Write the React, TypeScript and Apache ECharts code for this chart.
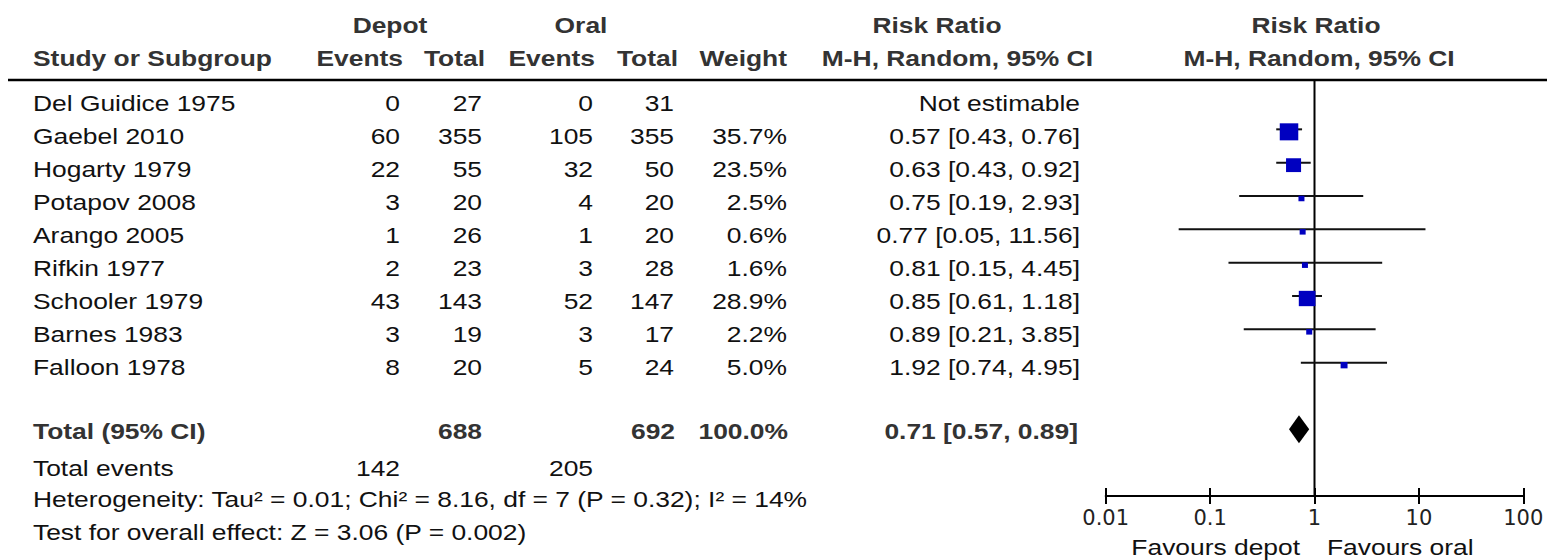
import React, { useEffect, useRef } from "react";
import * as echarts from "echarts";

// ---------- data ----------
const studies = [
  "Del Guidice 1975",
  "Gaebel 2010",
  "Hogarty 1979",
  "Potapov 2008",
  "Arango 2005",
  "Rifkin 1977",
  "Schooler 1979",
  "Barnes 1983",
  "Falloon 1978",
];
const depotEvents = [0, 60, 22, 3, 1, 2, 43, 3, 8];
const depotTotal = [27, 355, 55, 20, 26, 23, 143, 19, 20];
const oralEvents = [0, 105, 32, 4, 1, 3, 52, 3, 5];
const oralTotal = [31, 355, 50, 20, 20, 28, 147, 17, 24];
const weights: (number | null)[] = [null, 35.7, 23.5, 2.5, 0.6, 1.6, 28.9, 2.2, 5.0];
const riskRatio: (number | null)[] = [null, 0.57, 0.63, 0.75, 0.77, 0.81, 0.85, 0.89, 1.92];
const ciLower: (number | null)[] = [null, 0.43, 0.43, 0.19, 0.05, 0.15, 0.61, 0.21, 0.74];
const ciUpper: (number | null)[] = [null, 0.76, 0.92, 2.93, 11.56, 4.45, 1.18, 3.85, 4.95];

const totalDepot = 688;
const totalOral = 692;
const totalWeight = 100.0;
const pooledRR = 0.71;
const pooledLower = 0.57;
const pooledUpper = 0.89;
const totalEventsDepot = 142;
const totalEventsOral = 205;
const heterogeneityText =
  "Heterogeneity: Tau² = 0.01; Chi² = 8.16, df = 7 (P = 0.32); I² = 14%";
const overallEffectText = "Test for overall effect: Z = 3.06 (P = 0.002)";
const tickLabels = ["0.01", "0.1", "1", "10", "100"];
const favoursLeft = "Favours depot";
const favoursRight = "Favours oral";
const notEstimable = "Not estimable";

// ---------- layout ----------
const W = 1547;
const H = 560;
const SX = 1.2; // horizontal stretch of the reference's text
const FONT = '"Liberation Sans", Arial, sans-serif';
const totalRowIndex = 10;
const textRowY = (i: number) => 103 + 33 * i;
const GRID_LEFT = 1105.7;
const GRID_RIGHT = W - 1523.3;
const AXIS_Y = 496;

const fmt2 = (v: number) => v.toFixed(2);
const ciText = (r: number, l: number, u: number) => `${fmt2(r)} [${fmt2(l)}, ${fmt2(u)}]`;

function txt(text: string, x: number, y: number, align: string, bold = false) {
  return {
    type: "text",
    x,
    y,
    scaleX: SX,
    silent: true,
    z: 20,
    style: {
      text,
      fill: bold ? "#333333" : "#111111",
      fontSize: 22,
      fontFamily: FONT,
      fontWeight: bold ? "bold" : "normal",
      align,
      verticalAlign: "middle",
      textAlign: align,
      textVerticalAlign: "middle",
    },
  };
}

export default function App() {
  const ref = useRef<HTMLDivElement>(null);

  useEffect(() => {
    if (!ref.current) return;
    const chart = echarts.init(ref.current, null, { renderer: "svg" });

    const graphics: any[] = [];
    graphics.push({
      type: "line",
      shape: { x1: 8, y1: 80, x2: W, y2: 80 },
      style: { stroke: "#000", lineWidth: 2.5 },
      silent: true,
    });
    const h1 = 25;
    const h2 = 58;
    graphics.push(txt("Depot", 390, h1, "center", true));
    graphics.push(txt("Oral", 581, h1, "center", true));
    graphics.push(txt("Risk Ratio", 937, h1, "center", true));
    graphics.push(txt("Risk Ratio", 1316, h1, "center", true));
    graphics.push(txt("Study or Subgroup", 33, h2, "left", true));
    graphics.push(txt("Events", 403, h2, "right", true));
    graphics.push(txt("Total", 485, h2, "right", true));
    graphics.push(txt("Events", 595, h2, "right", true));
    graphics.push(txt("Total", 678, h2, "right", true));
    graphics.push(txt("Weight", 787, h2, "right", true));
    graphics.push(txt("M-H, Random, 95% CI", 1093, h2, "right", true));
    graphics.push(txt("M-H, Random, 95% CI", 1319, h2, "center", true));

    studies.forEach((s, i) => {
      const y = textRowY(i);
      graphics.push(txt(s, 33, y, "left"));
      graphics.push(txt(String(depotEvents[i]), 400, y, "right"));
      graphics.push(txt(String(depotTotal[i]), 482, y, "right"));
      graphics.push(txt(String(oralEvents[i]), 593, y, "right"));
      graphics.push(txt(String(oralTotal[i]), 674, y, "right"));
      const w = weights[i];
      if (w != null) graphics.push(txt(`${w.toFixed(1)}%`, 787, y, "right"));
      const r = riskRatio[i];
      const l = ciLower[i];
      const u = ciUpper[i];
      graphics.push(
        txt(r != null && l != null && u != null ? ciText(r, l, u) : notEstimable, 1080, y, "right")
      );
    });

    const ty = 431.5;
    graphics.push(txt("Total (95% CI)", 33, ty, "left", true));
    graphics.push(txt(String(totalDepot), 482, ty, "right", true));
    graphics.push(txt(String(totalOral), 675, ty, "right", true));
    graphics.push(txt(`${totalWeight.toFixed(1)}%`, 788, ty, "right", true));
    graphics.push(txt(ciText(pooledRR, pooledLower, pooledUpper), 1078, ty, "right", true));

    const ey = 468;
    graphics.push(txt("Total events", 33, ey, "left"));
    graphics.push(txt(String(totalEventsDepot), 400, ey, "right"));
    graphics.push(txt(String(totalEventsOral), 593, ey, "right"));
    graphics.push(txt(heterogeneityText, 33, 499, "left"));
    graphics.push(txt(overallEffectText, 33, 532.5, "left"));

    graphics.push(txt(favoursLeft, 1300, 547, "right"));
    graphics.push(txt(favoursRight, 1327, 547, "left"));

    const studyData: number[][] = [];
    studies.forEach((_, i) => {
      const r = riskRatio[i];
      const l = ciLower[i];
      const u = ciUpper[i];
      const w = weights[i];
      if (r != null && l != null && u != null && w != null) studyData.push([l, u, r, w, i]);
    });

    const axisCommon = {
      type: "log",
      logBase: 10,
      min: 0.01,
      max: 100,
      position: "bottom",
      splitLine: { show: false },
      minorTick: { show: false },
      minorSplitLine: { show: false },
    };

    chart.setOption({
      animation: false,
      backgroundColor: "#ffffff",
      grid: [
        { left: GRID_LEFT, right: GRID_RIGHT, top: 80, bottom: H - AXIS_Y, containLabel: false },
        { left: GRID_LEFT, right: GRID_RIGHT, top: AXIS_Y - 20, bottom: H - AXIS_Y, containLabel: false },
      ],
      xAxis: [
        {
          ...axisCommon,
          gridIndex: 0,
          axisLine: { show: true, onZero: false, lineStyle: { color: "#000", width: 2 } },
          axisTick: { show: true, length: 8, lineStyle: { color: "#000", width: 2 } },
          axisLabel: {
            show: true,
            interval: 0,
            margin: 11,
            fontSize: 21,
            fontFamily: '"DejaVu Sans", sans-serif',
            color: "#222",
            formatter: (v: number) => tickLabels[Math.round(Math.log10(v)) + 2] ?? "",
          },
        },
        {
          ...axisCommon,
          gridIndex: 1,
          axisLine: { show: false },
          axisTick: { show: true, inside: true, length: 8, lineStyle: { color: "#000", width: 2 } },
          axisLabel: { show: false },
        },
      ],
      yAxis: [
        { type: "value", gridIndex: 0, min: -0.48, max: 12, inverse: true, show: false },
        { type: "value", gridIndex: 1, min: 0, max: 1, show: false },
      ],
      series: [
        {
          type: "line",
          xAxisIndex: 0,
          yAxisIndex: 0,
          data: [
            [1, -0.48],
            [1, 12],
          ],
          symbol: "none",
          silent: true,
          z: 1,
          lineStyle: { color: "#000", width: 2 },
        },
        {
          type: "custom",
          xAxisIndex: 0,
          yAxisIndex: 0,
          z: 5,
          clip: false,
          data: studyData,
          encode: { x: [0, 1, 2], y: 4 },
          renderItem: (params: any, api: any) => {
            const row = api.value(4);
            const p1 = api.coord([api.value(0), row]);
            const p2 = api.coord([api.value(1), row]);
            const pe = api.coord([api.value(2), row]);
            const size = Math.max(6, 3.1 * Math.sqrt(api.value(3)));
            const hgt = size * 0.92;
            return {
              type: "group",
              children: [
                {
                  type: "line",
                  shape: { x1: p1[0], y1: p1[1], x2: p2[0], y2: p2[1] },
                  style: { stroke: "#111", lineWidth: 2 },
                },
                {
                  type: "rect",
                  shape: { x: pe[0] - size / 2, y: pe[1] + 2.5 - hgt / 2, width: size, height: hgt },
                  style: { fill: "#0000c0" },
                },
              ],
            };
          },
        },
        {
          type: "custom",
          xAxisIndex: 0,
          yAxisIndex: 0,
          z: 5,
          clip: false,
          data: [[pooledLower, pooledUpper, pooledRR, totalRowIndex]],
          encode: { x: [0, 1, 2], y: 3 },
          renderItem: (params: any, api: any) => {
            const row = api.value(3);
            const pl = api.coord([api.value(0), row]);
            const pu = api.coord([api.value(1), row]);
            const pe = api.coord([api.value(2), row]);
            return {
              type: "polygon",
              shape: {
                points: [
                  [pl[0], pl[1]],
                  [pe[0], pe[1] - 14],
                  [pu[0], pu[1]],
                  [pe[0], pe[1] + 14],
                ],
              },
              style: { fill: "#000" },
            };
          },
        },
      ],
      graphic: graphics,
    });

    return () => {
      chart.dispose();
    };
  }, []);

  return (
    <div
      ref={ref}
      style={{ position: "fixed", left: 0, top: 0, width: W, height: H, background: "#fff" }}
    />
  );
}
